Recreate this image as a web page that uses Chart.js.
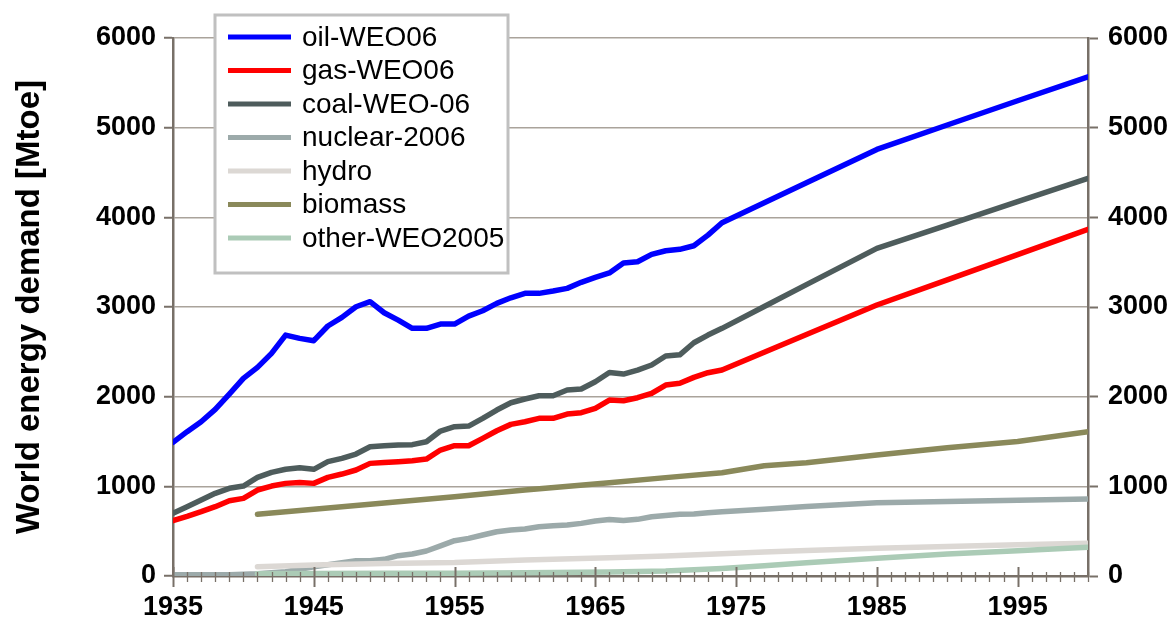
<!DOCTYPE html>
<html>
<head>
<meta charset="utf-8">
<script src="https://cdn.jsdelivr.net/npm/chart.js@4"></script>
<style>
html, body { margin: 0; padding: 0; background: #ffffff; }
</style>
</head>
<body>
<canvas id="energyChart" width="1176" height="621"></canvas>
<script>
// yearly history up to 1974, then sparse readings along the straight projection segments
const years = [
    1935, 1936, 1937, 1938, 1939, 1940, 1941, 1942, 1943, 1944,
    1945, 1946, 1947, 1948, 1949, 1950, 1951, 1952, 1953, 1954,
    1955, 1956, 1957, 1958, 1959, 1960, 1961, 1962, 1963, 1964,
    1965, 1966, 1967, 1968, 1969, 1970, 1971, 1972, 1973, 1974,
    1977, 1980, 1985, 1990, 1995, 2000
];

const oilValues = [
    1490, 1610, 1720, 1858, 2029, 2204, 2327, 2483, 2687, 2650,
    2624, 2788, 2884, 3003, 3059, 2936, 2854, 2762, 2762, 2810,
    2810, 2899, 2958, 3040, 3103, 3152, 3152, 3178, 3208, 3275,
    3330, 3380, 3490, 3505, 3587, 3627, 3643, 3683, 3802, 3939,
    4162, 4385, 4757, 5030, 5300, 5567
];

const gasValues = [
    617, 665, 717, 773, 840, 866, 959, 1003, 1033, 1044,
    1033, 1100, 1137, 1182, 1256, 1266, 1275, 1286, 1304, 1405,
    1453, 1453, 1535, 1620, 1691, 1720, 1758, 1758, 1806, 1821,
    1870, 1962, 1955, 1988, 2037, 2130, 2149, 2215, 2267, 2297,
    2495, 2693, 3022, 3303, 3585, 3866
];

const coalValues = [
    699, 772, 847, 922, 978, 1003, 1100, 1156, 1190, 1208,
    1190, 1275, 1312, 1360, 1442, 1452, 1461, 1465, 1497, 1617,
    1665, 1672, 1758, 1851, 1932, 1974, 2010, 2010, 2074, 2085,
    2167, 2270, 2252, 2297, 2353, 2453, 2467, 2601, 2687, 2762,
    3005, 3249, 3654, 3914, 4174, 4434
];

const nuclearValues = [
    15, 15, 15, 15, 15, 20, 25, 35, 48, 75,
    104, 125, 149, 171, 171, 186, 227, 245, 279, 335,
    394, 420, 457, 494, 513, 524, 550, 561, 568, 587,
    613, 630, 620, 632, 661, 675, 688, 692, 705, 717,
    745, 775, 817, 832, 845, 858
];

// the three smooth series start in 1941
const smoothYears = [1941, 1945, 1950, 1955, 1960, 1966, 1970, 1974, 1977, 1980, 1985, 1990, 1995, 2000];
const hydroValues = [104, 122, 140, 150, 178, 204, 224, 248, 268, 284, 309, 330, 348, 365];
const biomassValues = [688, 744, 815, 884, 960, 1040, 1097, 1152, 1230, 1264, 1349, 1431, 1500, 1609];
const otherValues = [25, 28, 30, 32, 35, 45, 55, 85, 115, 149, 197, 245, 282, 320];

const xTickYears = [1935, 1945, 1955, 1965, 1975, 1985, 1995];

const seriesNames = ['oil-WEO06', 'gas-WEO06', 'coal-WEO-06', 'nuclear-2006', 'hydro', 'biomass', 'other-WEO2005'];
const seriesColors = ['#0000ff', '#ff0000', '#4e5c5c', '#9caaaa', '#dcd8d4', '#8a895a', '#abcbb6'];

const axisColor = '#787068';
const gridColor = '#aaa39b';
const fontFamily = "'Liberation Sans', Arial, sans-serif";


function toPoints(xs, ys) {
    return xs.map((x, i) => ({ x: x, y: ys[i] }));
}

function makeDataset(index, points) {
    return {
        label: seriesNames[index],
        data: points,
        borderColor: seriesColors[index],
        backgroundColor: seriesColors[index],
        borderWidth: 5.5,
        pointRadius: 0,
        tension: 0,
        borderJoinStyle: 'round',
        borderCapStyle: 'round',
        order: 7 - index
    };
}

// minor (yearly) and major (10-year) tick marks on the x axis
const yearTickMarks = {
    id: 'yearTickMarks',
    afterDraw(chart) {
        const ctx = chart.ctx;
        const xScale = chart.scales.x;
        const base = chart.chartArea.bottom;
        ctx.save();
        ctx.strokeStyle = axisColor;
        for (let yr = xScale.min; yr <= xScale.max; yr++) {
            const px = Math.round(xScale.getPixelForValue(yr)) + 0.5;
            const major = xTickYears.includes(yr);
            ctx.lineWidth = major ? 2 : 1.3;
            ctx.beginPath();
            ctx.moveTo(px, base - (major ? 9 : 4));
            ctx.lineTo(px, base + (major ? 11 : 6));
            ctx.stroke();
        }
        ctx.restore();
    }
};

// legend box drawn inside the plot, upper left
const legendBox = {
    id: 'legendBox',
    afterDraw(chart) {
        const ctx = chart.ctx;
        ctx.save();
        ctx.fillStyle = '#ffffff';
        ctx.fillRect(215, 15, 293, 258);
        ctx.strokeStyle = '#c0c0c0';
        ctx.lineWidth = 3;
        ctx.strokeRect(215, 15, 293, 258);
        ctx.font = '28px ' + fontFamily;
        ctx.textBaseline = 'middle';
        ctx.textAlign = 'left';
        chart.data.datasets.forEach((ds, i) => {
            const rowY = 37 + i * 33.5;
            ctx.strokeStyle = ds.borderColor;
            ctx.lineWidth = 5;
            ctx.beginPath();
            ctx.moveTo(228, rowY);
            ctx.lineTo(291, rowY);
            ctx.stroke();
            ctx.fillStyle = '#000000';
            ctx.fillText(ds.label, 302, rowY + 1);
        });
        ctx.restore();
    }
};

function createEnergyChart() {
    const ctx = document.getElementById('energyChart').getContext('2d');

    const datasets = [
        makeDataset(0, toPoints(years, oilValues)),
        makeDataset(1, toPoints(years, gasValues)),
        makeDataset(2, toPoints(years, coalValues)),
        makeDataset(3, toPoints(years, nuclearValues)),
        makeDataset(4, toPoints(smoothYears, hydroValues)),
        makeDataset(5, toPoints(smoothYears, biomassValues)),
        makeDataset(6, toPoints(smoothYears, otherValues))
    ];

    const tickFont = { family: fontFamily, size: 27, weight: 'bold' };

    new Chart(ctx, {
        type: 'line',
        data: { datasets: datasets },
        options: {
            responsive: false,
            animation: false,
            layout: { padding: { top: 38 } },
            plugins: {
                legend: { display: false },
                tooltip: { enabled: false }
            },
            scales: {
                x: {
                    type: 'linear',
                    min: 1935,
                    max: 2000,
                    afterBuildTicks: (scale) => {
                        scale.ticks = xTickYears.map(v => ({ value: v }));
                    },
                    afterFit: (scale) => { scale.height = 45; },
                    ticks: {
                        font: tickFont,
                        color: '#000000',
                        padding: 15,
                        maxRotation: 0,
                        autoSkip: false,
                        callback: (v) => String(v)
                    },
                    grid: { display: false, drawTicks: false },
                    border: { display: true, color: axisColor, width: 2.5 }
                },
                y: {
                    position: 'left',
                    min: 0,
                    max: 6000,
                    afterFit: (scale) => { scale.width = 173; },
                    ticks: {
                        stepSize: 1000,
                        font: tickFont,
                        color: '#000000',
                        padding: 8,
                        callback: (v) => String(v)
                    },
                    grid: {
                        color: gridColor,
                        lineWidth: 1.5,
                        tickLength: 9,
                        tickColor: axisColor,
                        tickWidth: 2
                    },
                    border: { display: true, color: axisColor, width: 2.5 },
                    title: {
                        display: true,
                        text: 'World energy demand [Mtoe]',
                        color: '#000000',
                        font: { family: fontFamily, size: 33, weight: 'bold', lineHeight: 1.2 },
                        padding: { top: 10, bottom: 0 }
                    }
                },
                y2: {
                    position: 'right',
                    min: 0,
                    max: 6000,
                    afterFit: (scale) => { scale.width = 88; },
                    ticks: {
                        stepSize: 1000,
                        font: tickFont,
                        color: '#000000',
                        padding: 10,
                        callback: (v) => String(v)
                    },
                    grid: {
                        drawOnChartArea: false,
                        tickLength: 10,
                        tickColor: axisColor,
                        tickWidth: 2
                    },
                    border: { display: true, color: axisColor, width: 2.5 }
                }
            }
        },
        plugins: [yearTickMarks, legendBox]
    });
}

createEnergyChart();
</script>
</body>
</html>
